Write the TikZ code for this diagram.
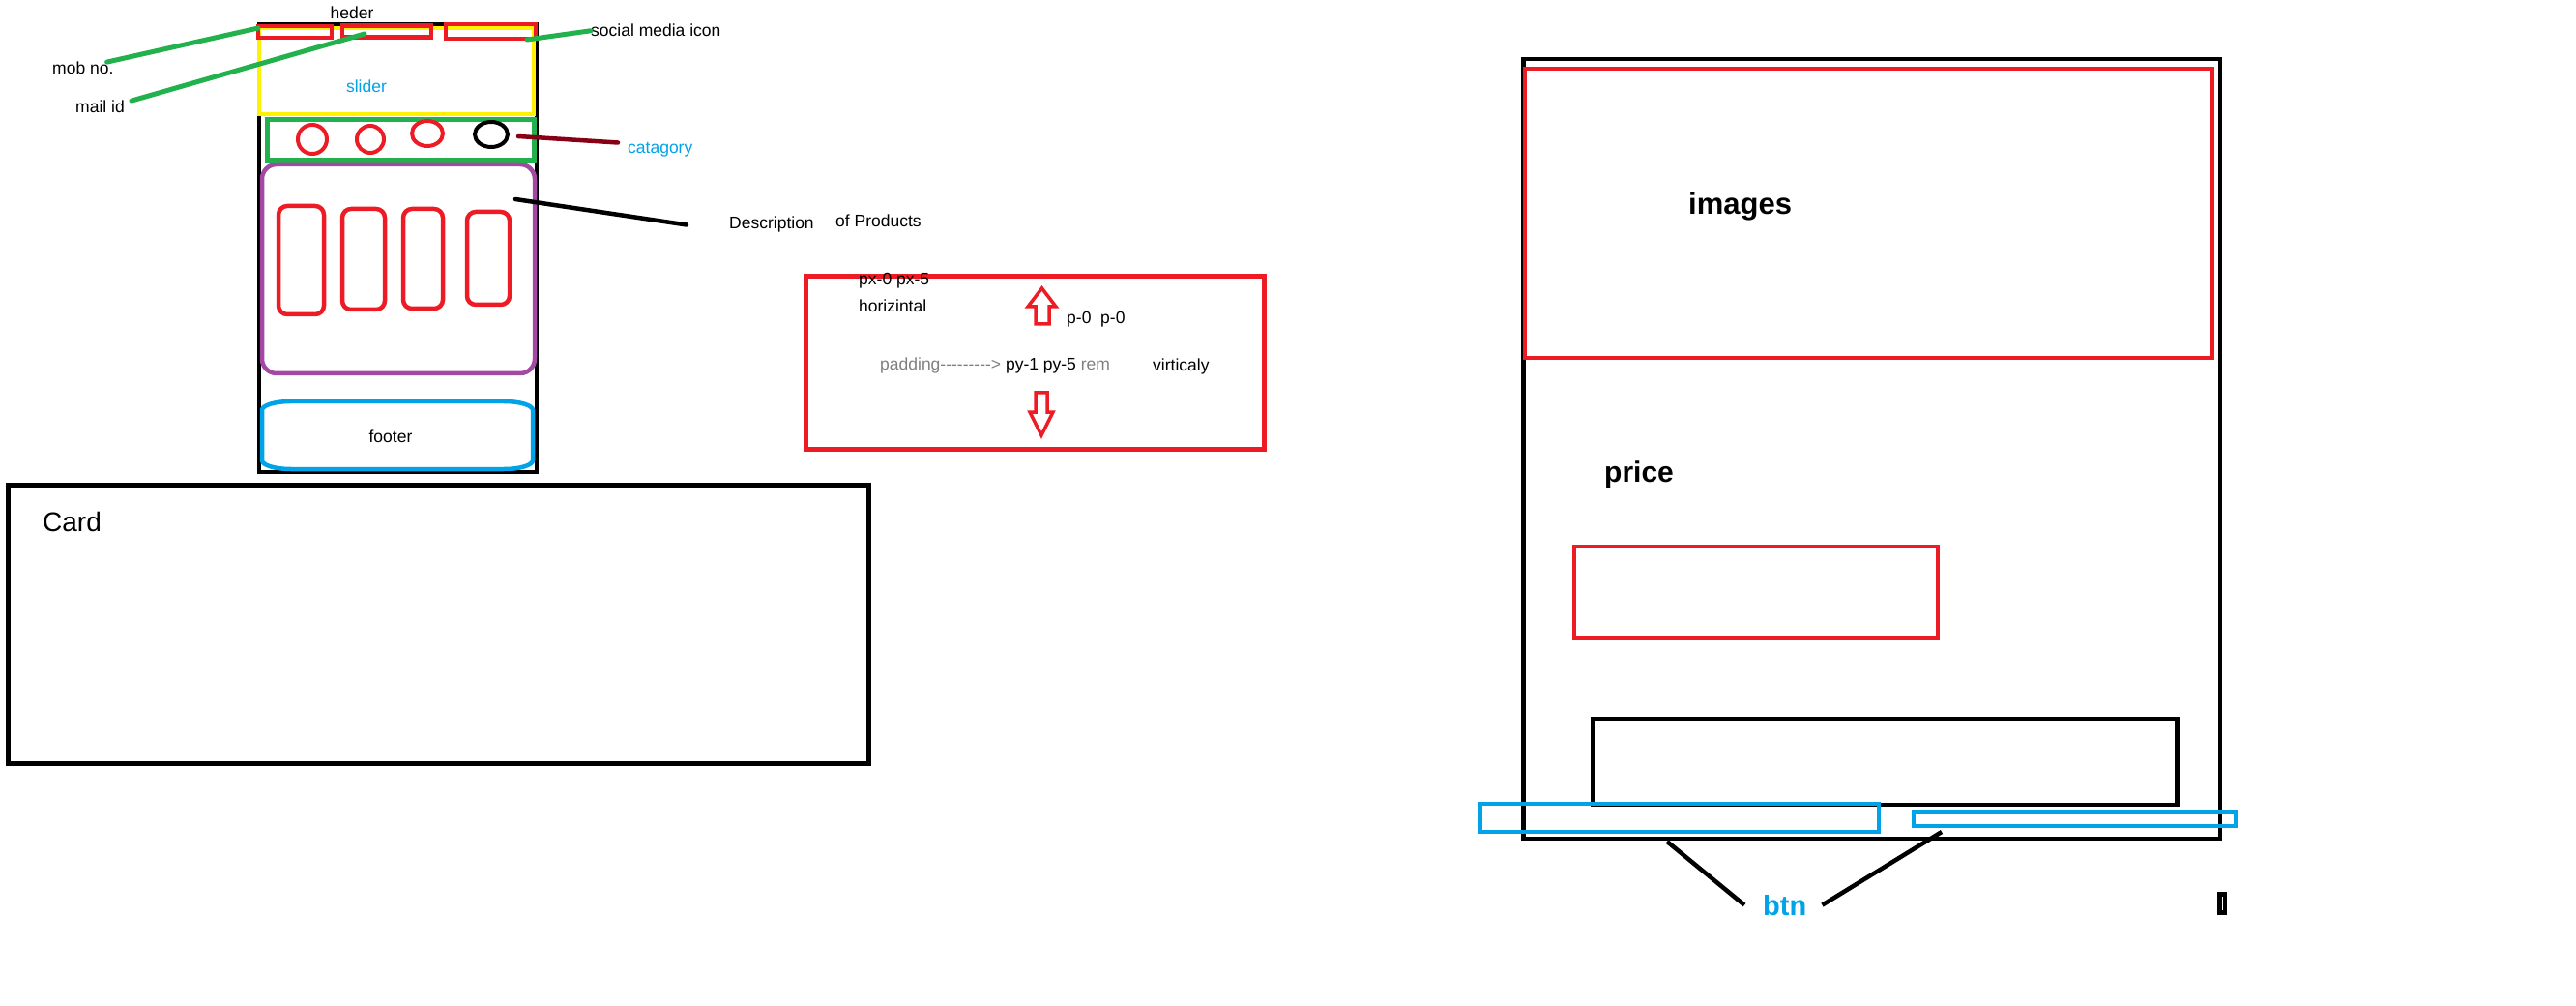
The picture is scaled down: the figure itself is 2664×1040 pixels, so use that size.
\documentclass[tikz,border=0pt]{standalone}
\usepackage{fontspec}
\setmainfont{Liberation Sans}
\definecolor{rojo}{HTML}{ED1C24}
\definecolor{verde}{HTML}{22B14C}
\definecolor{amarillo}{HTML}{FFF200}
\definecolor{azul}{HTML}{00A2E8}
\definecolor{morado}{HTML}{A349A4}
\definecolor{granate}{HTML}{880015}
\definecolor{gris}{HTML}{7F7F7F}

\begin{document}
\begin{tikzpicture}[x=1pt,y=-1pt,
        trazo/.style={line width=4.5pt},
        linea/.style={line width=5pt,line cap=round},
        etiq/.style={inner sep=0pt,font=\fontsize{17.5}{21}\selectfont},
        grande/.style={inner sep=0pt,font=\fontsize{31}{36}\selectfont\bfseries}]
        \useasboundingbox (0,0) rectangle (2664,1040); %Delimitador de imagen
        % maqueta de la pagina
        \draw[trazo] (268,25) rectangle (555,488); %pagina
        \draw[trazo,amarillo,line width=4pt] (268,29) rectangle (552,118); %slider
        \draw[trazo,rojo] (267,27) rectangle (343,39); %mob no.
        \draw[trazo,rojo] (354,26.5) rectangle (446,38.5); %mail id
        \draw[trazo,rojo] (461,25) rectangle (554,40); %iconos
        \draw[trazo,verde] (276.5,123.5) rectangle (552.5,165.5); %categorias
        \draw[rojo,line width=4pt] (323,144) circle (15);
        \draw[rojo,line width=4pt] (383,144) circle (14);
        \draw[rojo,line width=4pt] (442,138) ellipse (16 and 13);
        \draw[line width=4pt] (508,139) ellipse (17 and 13);
        \draw[trazo,morado,rounded corners=15pt] (271,170) rectangle (553,386); %productos
        \draw[trazo,rojo,rounded corners=9pt] (288,213) rectangle (335,325);
        \draw[trazo,rojo,rounded corners=9pt] (354,216) rectangle (398,320);
        \draw[trazo,rojo,rounded corners=9pt] (417,216) rectangle (458,319);
        \draw[trazo,rojo,rounded corners=9pt] (483,219) rectangle (527,315);
        \draw[trazo,azul] (301,415) -- (521,415) arc (-90:0:30 and 9) -- (551,476) arc (0:90:30 and 9)
            -- (301,485) arc (90:180:30 and 9) -- (271,424) arc (180:270:30 and 9) -- cycle; %footer
        \node[etiq,anchor=base] (heder) at (364,20) {heder};
        \node[etiq,anchor=base west] (mob) at (54,77) {mob no.};
        \node[etiq,anchor=base west] (mail) at (78,117) {mail id};
        \node[etiq,anchor=base west] (social) at (611,38) {social media icon};
        \node[etiq,anchor=base,azul] (slider) at (379,96) {slider};
        \node[etiq,anchor=base west,azul] (catagory) at (649,159) {catagory};
        \node[etiq,anchor=base west] (desc) at (754,237) {Description};
        \node[etiq,anchor=base west] (prod) at (864,235) {of Products};
        \node[etiq,anchor=base] (footer) at (404,457) {footer};
        \coordinate (pmob) at (267,29);
        \coordinate (pmail) at (377,35);
        \coordinate (psocial) at (545,41);
        \coordinate (pcat) at (536,141);
        \coordinate (pdesc) at (533,206);
        \draw[linea,verde] ([xshift=-7pt]mob.north east) -- (pmob); %Linea mob no.
        \draw[linea,verde] ([xshift=7pt]mail.north east) -- (pmail); %Linea mail id
        \draw[linea,verde] (psocial) -- (social.west); %Linea iconos
        \draw[linea,granate,line width=4.5pt] (pcat) -- ([xshift=-10pt]catagory.north west); %Linea categoria
        \draw[linea,line width=4.5pt] (pdesc) -- ([xshift=-44pt]desc.west); %Linea descripcion
        % card
        \draw[trazo,line width=5pt] (8.5,501.5) rectangle (898.5,789.5); %card
        \node[inner sep=0pt,font=\fontsize{28}{33}\selectfont,anchor=base west] (card) at (44,549) {Card};
        % padding
        \draw[trazo,rojo,line width=5pt] (833.5,285.5) rectangle (1307.5,464.5); %caja padding
        \draw[rojo,line width=3.5pt,fill=white] (1071,335) -- (1071,317) -- (1063,317) -- (1077.5,298)
            -- (1092,317) -- (1085,317) -- (1085,335) -- cycle; %flecha arriba
        \draw[rojo,line width=3.5pt,fill=white] (1071,406) -- (1071,426) -- (1065,426) -- (1077,450)
            -- (1089,426) -- (1083,426) -- (1083,406) -- cycle; %flecha abajo
        \node[etiq,anchor=base west] (px) at (888,295) {px-0 px-5};
        \node[etiq,anchor=base west] (horiz) at (888,323) {horizintal};
        \node[etiq,anchor=base west] (p0) at (1103,335) {p-0~~p-0};
        \node[etiq,anchor=base west] (pad) at (910,383)
            {\textcolor{gris}{padding-{}-{}-{}-{}-{}-{}-{}-{}-{}>} py-1 py-5 \textcolor{gris}{rem}};
        \node[etiq,anchor=base west] (virt) at (1192,384) {virticaly};
        % tarjeta de producto
        \draw[trazo] (1575.5,61) rectangle (2296,867); %tarjeta
        \draw[trazo,rojo,line width=4pt] (1577,71) rectangle (2288,370); %imagenes
        \draw[trazo,rojo,line width=4pt] (1627.5,565) rectangle (2003.5,660); %precio
        \draw[trazo] (1647.5,743) rectangle (2251.5,832); %texto
        \draw[trazo,azul,line width=4pt] (1531,831) rectangle (1943,860); %boton 1
        \draw[trazo,azul,line width=4pt] (1979,839) rectangle (2312,854); %boton 2
        \fill (2293,922) rectangle (2303,946); %marca
        \draw[white,line width=1pt] (2298,927) -- (2298,941);
        \node[grande,anchor=base west] (images) at (1746,222) {images};
        \node[grande,anchor=base west,font=\fontsize{30}{35}\selectfont\bfseries] (price) at (1659,498) {price};
        \node[grande,anchor=base west,azul,font=\fontsize{29}{34}\selectfont\bfseries] (btn) at (1823,946) {btn};
        \coordinate (pbtn1) at (1724,870);
        \coordinate (pbtn2) at (2008,860);
        \draw[line width=4.5pt] (pbtn1) -- ([xshift=-19pt]btn.west); %Linea boton 1
        \draw[line width=4.5pt] (pbtn2) -- ([xshift=16pt]btn.east); %Linea boton 2
    \end{tikzpicture}
\end{document}
